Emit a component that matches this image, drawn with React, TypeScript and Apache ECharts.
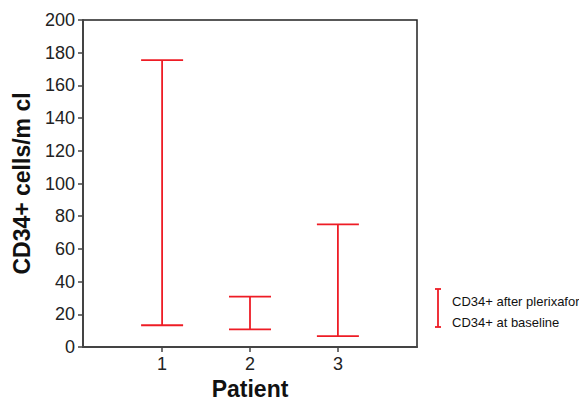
import React, { useEffect, useRef } from "react";
import * as echarts from "echarts";

const patients = [1, 2, 3];
const baseline = [13.3, 10.8, 6.7];
const afterPlerixafor = [175.5, 30.8, 75.0];
const yTicks = [0, 20, 40, 60, 80, 100, 120, 140, 160, 180, 200];
const legendLabels = ["CD34+ after plerixafor", "CD34+ at baseline"];

const RED = "#ee1c25";

export default function App() {
  const ref = useRef<HTMLDivElement>(null);
  useEffect(() => {
    if (!ref.current) return;
    const chart = echarts.init(ref.current, null, { renderer: "svg" });
    const data = patients.map((p, i) => [p, baseline[i], afterPlerixafor[i]]);
    chart.setOption({
      animation: false,
      grid: {
        left: 83,
        top: 20,
        right: 162,
        bottom: 54,
        outerBoundsMode: "none",
        containLabel: false,
        show: true,
        borderColor: "#222",
        borderWidth: 1.5,
        backgroundColor: "transparent",
      },
      xAxis: {
        type: "value",
        min: 0.1,
        max: 3.9,
        name: "Patient",
        nameLocation: "middle",
        nameGap: 30,
        nameTextStyle: { fontFamily: "Liberation Sans", fontSize: 23, fontWeight: "bold", color: "#111" },
        axisLine: { show: true, lineStyle: { color: "#444", width: 2 } },
        axisTick: { show: true, length: 5, lineStyle: { color: "#444", width: 1.5 }, customValues: patients },
        axisLabel: {
          customValues: patients,
          fontFamily: "Liberation Sans",
          fontSize: 18,
          color: "#222",
          margin: 8,
        },
        splitLine: { show: false },
      },
      yAxis: {
        type: "value",
        min: 0,
        max: 200,
        interval: 20,
        name: "CD34+ cells/m cl",
        nameLocation: "middle",
        nameGap: 50,
        nameTextStyle: { fontFamily: "Liberation Sans", fontSize: 23, fontWeight: "bold", color: "#111" },
        axisLine: { show: true, lineStyle: { color: "#444", width: 2 } },
        axisTick: { show: true, length: 5, lineStyle: { color: "#444", width: 1.5 } },
        axisLabel: {
          fontFamily: "Liberation Sans",
          fontSize: 18,
          color: "#222",
          margin: 8,
          formatter: (v: number) => (yTicks.includes(v) ? String(v) : ""),
        },
        splitLine: { show: false },
      },
      series: [
        {
          type: "custom",
          data,
          renderItem: (params: any, api: any) => {
            const x = api.value(0);
            const lo = api.coord([x, api.value(1)]);
            const hi = api.coord([x, api.value(2)]);
            const hw = 21;
            const style = { stroke: RED, lineWidth: 1.8 };
            return {
              type: "group",
              children: [
                { type: "line", shape: { x1: lo[0], y1: lo[1], x2: hi[0], y2: hi[1] }, style },
                { type: "line", shape: { x1: lo[0] - hw, y1: lo[1], x2: lo[0] + hw, y2: lo[1] }, style },
                { type: "line", shape: { x1: hi[0] - hw, y1: hi[1], x2: hi[0] + hw, y2: hi[1] }, style },
              ],
            };
          },
        },
      ],
      graphic: [
        { type: "line", shape: { x1: 438, y1: 289, x2: 438, y2: 327 }, style: { stroke: RED, lineWidth: 1.8 } },
        { type: "line", shape: { x1: 435, y1: 289, x2: 441, y2: 289 }, style: { stroke: RED, lineWidth: 1.8 } },
        { type: "line", shape: { x1: 435, y1: 327, x2: 441, y2: 327 }, style: { stroke: RED, lineWidth: 1.8 } },
        {
          type: "text",
          x: 452,
          y: 301,
          style: { text: legendLabels[0], fontFamily: "Liberation Sans", fontSize: 13, fill: "#111", verticalAlign: "middle" },
        },
        {
          type: "text",
          x: 452,
          y: 322,
          style: { text: legendLabels[1], fontFamily: "Liberation Sans", fontSize: 13, fill: "#111", verticalAlign: "middle" },
        },
      ],
    });
    return () => chart.dispose();
  }, []);
  return (
    <div
      ref={ref}
      style={{ position: "fixed", left: 0, top: 0, width: 579, height: 401, background: "#fff" }}
    />
  );
}
